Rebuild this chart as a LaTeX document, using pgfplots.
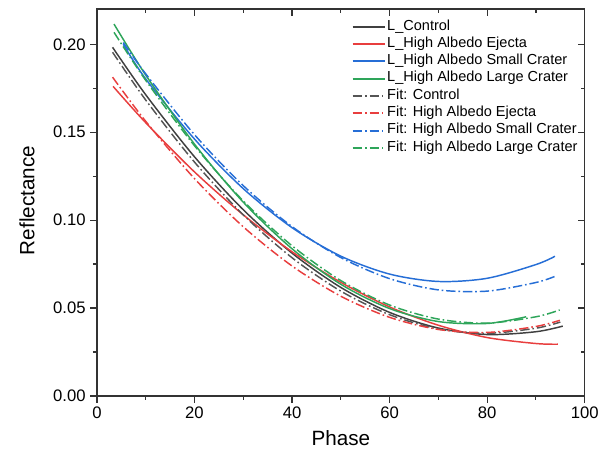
\documentclass[border=0pt]{standalone}
\usepackage{fontspec}
\setmainfont{Liberation Sans}
\usepackage{pgfplots}
\pgfplotsset{compat=1.18}

\definecolor{cgray}{RGB}{64,64,64}
\definecolor{cgrayf}{RGB}{85,85,85}
\definecolor{cred}{RGB}{232,62,62}
\definecolor{cblue}{RGB}{38,110,214}
\definecolor{cgreen}{RGB}{46,165,90}

\pgfplotsset{
  frame/.style={
    width=366pt, height=290.25pt, scale only axis,
    xmin=0, xmax=100, ymin=0, ymax=0.22,
    xtick={0,20,40,60,80,100},
    ytick={0,0.05,0.1,0.15,0.2},
    minor x tick num=1, minor y tick num=1,
    major tick length=5pt, minor tick length=3pt,
    tick style={line width=0.9pt, color=black!80},
    axis line style={line width=1pt, color=black!80},
    scaled y ticks=false,
  },
  dd/.style={dash pattern=on 7pt off 2.2pt on 1.2pt off 2.2pt},
}

\begin{document}
\begin{tikzpicture}
\begin{axis}[
  frame,
  clip=false,
  tick align=outside,
  xtick pos=left, ytick pos=left,
  /pgf/number format/assume math mode=true,
  ticklabel style={font=\fontsize{12.5}{15}\selectfont},
  yticklabel style={/pgf/number format/.cd, fixed, fixed zerofill, precision=2},
  label style={font=\fontsize{15.5}{18}\selectfont},
  xlabel={Phase},
  ylabel={Reflectance},
  xlabel style={at={(axis description cs:0.5,-0.1085)}, anchor=center},
  ylabel style={at={(axis description cs:-0.1434,0.505)}, anchor=center},
  legend style={font=\fontsize{10.9}{13}\selectfont, draw=none, fill=none,
    at={(rel axis cs:0.522,0.976)}, anchor=north west, inner sep=0pt,
    row sep=1pt,
    nodes={inner sep=1pt, text height=0.75em, text depth=0.25em}},
  legend cell align=left,
  legend image code/.code={\draw[#1, line width=1.4pt] (0cm,0cm) -- (0.85cm,0cm);},
  every axis plot/.append style={line width=1.1pt, smooth},
]
\path (rel axis cs:-0.1988,-0.155) rectangle (rel axis cs:1.0369,1.0181);

% measured curves
\addplot[cgray] coordinates {(3.2,0.1983) (10,0.1713) (20,0.1360) (30,0.1059) (40,0.0812) (50,0.0617) (60,0.0475) (70,0.0386) (80,0.0349) (90,0.0365) (95.5,0.0397)};
\addlegendentry{L\_Control}
\addplot[cred] coordinates {(3.3,0.1761) (10,0.1554) (20,0.1274) (30,0.1030) (40,0.0820) (50,0.0646) (60,0.0506) (70,0.0402) (80,0.0332) (90,0.0298) (94.5,0.0294)};
\addlegendentry{L\_High Albedo Ejecta}
\addplot[cblue] coordinates {(5.4,0.2000) (10,0.1803) (20,0.1461) (30,0.1179) (40,0.0957) (50,0.0795) (60,0.0693) (70,0.0651) (80,0.0669) (90,0.0747) (93.9,0.0794)};
\addlegendentry{L\_High Albedo Small Crater}
\addplot[cgreen] coordinates {(3.5,0.2115) (10,0.1825) (20,0.1432) (30,0.1102) (40,0.0837) (50,0.0635) (60,0.0497) (70,0.0423) (80,0.0412) (88,0.0450)};
\addlegendentry{L\_High Albedo Large Crater}

% fits
\addplot[cgrayf, dd] coordinates {(3.2,0.1955) (10,0.1683) (20,0.1330) (30,0.1030) (40,0.0786) (50,0.0596) (60,0.0462) (70,0.0381) (80,0.0356) (90,0.0385) (95,0.0420)};
\addlegendentry{Fit: Control}
\addplot[cred, dd] coordinates {(3.2,0.1813) (10,0.1562) (20,0.1236) (30,0.0962) (40,0.0739) (50,0.0567) (60,0.0447) (70,0.0378) (80,0.0361) (90,0.0395) (94.9,0.0430)};
\addlegendentry{Fit: High Albedo Ejecta}
\addplot[cblue, dd] coordinates {(5.4,0.2010) (10,0.1832) (20,0.1486) (30,0.1196) (40,0.0963) (50,0.0787) (60,0.0667) (70,0.0603) (80,0.0596) (90,0.0645) (93.9,0.0680)};
\addlegendentry{Fit: High Albedo Small Crater}
\addplot[cgreen, dd] coordinates {(3.5,0.2068) (10,0.1795) (20,0.1423) (30,0.1109) (40,0.0854) (50,0.0656) (60,0.0517) (70,0.0437) (80,0.0414) (90,0.0450) (94.9,0.0489)};
\addlegendentry{Fit: High Albedo Large Crater}
\end{axis}

% mirrored inward ticks on top and right
\begin{axis}[
  frame,
  tick align=inside,
  xtick pos=right, ytick pos=right,
  xticklabels={}, yticklabels={},
]
\end{axis}
\end{tikzpicture}
\end{document}
